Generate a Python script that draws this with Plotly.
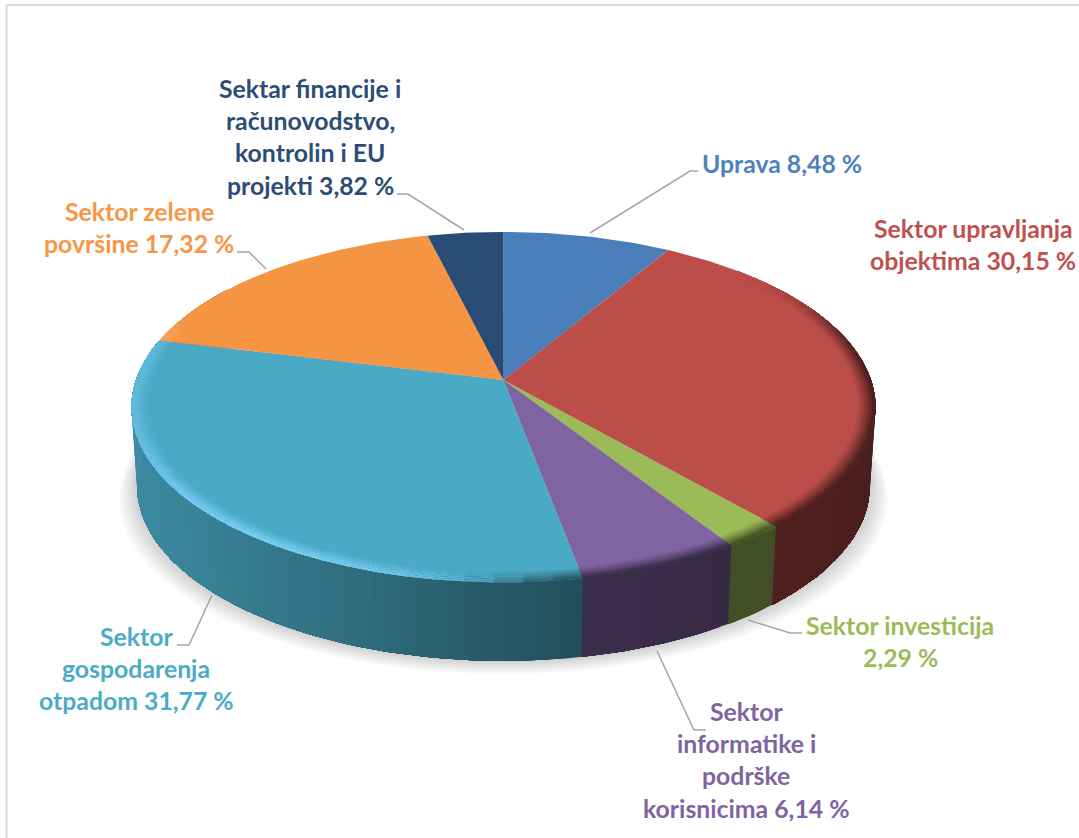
import math
import numpy as np
import plotly.graph_objects as go

names = ["Uprava", "Sektor upravljanja objektima", "Sektor investicija",
         "Sektor informatike i podrške korisnicima", "Sektor gospodarenja otpadom",
         "Sektor zelene površine", "Sektar financije i računovodstvo, kontrolin i EU projekti"]
values = [8.48, 30.15, 2.29, 6.14, 31.77, 17.32, 3.82]
colors = ["#4A7EBB", "#BC4E4A", "#9BBB59", "#8064A2", "#4AA9C4", "#F59443", "#2A4B73"]
label_colors = ["#4F81BD", "#C0504D", "#9BBB59", "#8064A2", "#4BACC6", "#F79646", "#2C4D75"]
label_lines = [
    ["Uprava 8,48 %"],
    ["Sektor upravljanja", "objektima 30,15 %"],
    ["Sektor investicija", "2,29 %"],
    ["Sektor", "informatike i", "podrške", "korisnicima 6,14 %"],
    ["Sektor", "gospodarenja", "otpadom 31,77 %"],
    ["Sektor zelene", "površine 17,32 %"],
    ["Sektar financije i", "računovodstvo,", "kontrolin i EU", "projekti 3,82 %"],
]
label_x = [782, 973, 900, 746, 136, 139, 310]
label_y = [163, 228, 625, 711, 636, 211, 88]
leaders = [
    [(590, 233), (690, 171), (698, 171)],
    [],
    [(748, 620), (790, 633), (802, 633)],
    [(657, 651), (694, 730), (706, 730)],
    [(212, 595), (189, 645), (177, 645)],
    [(266, 269), (249, 252), (237, 252)],
    [(464, 230), (408, 194), (397, 194)],
]

CX, CY, K, B = 503.5, 380.0, 0.155, 171.0
A = 372 * math.sqrt(1 - K * K)
DEPTH, SHRINK = 78.5, 0.985
FONT = 24.8
LINE_H = 32.4


def rgb(h):
    return np.array([int(h[i:i + 2], 16) for i in (1, 3, 5)], float)


def css(c):
    c = np.clip(c, 0, 255)
    return f"rgb({int(c[0])},{int(c[1])},{int(c[2])})"


def smooth(a, b, t):
    s = min(max((t - a) / (b - a), 0), 1)
    return s * s * (3 - 2 * s)


def project(theta_deg, r=1.0, low=False):
    t = np.radians(theta_deg)
    u, v = r * np.sin(t), r * np.cos(t)
    w = 1 + K * v
    x, y = A * u / w, -B * v / w
    if low:
        return CX + x * SHRINK, CY + y + DEPTH
    return CX + x, CY + y


def wall_factor(t):
    pts_t = [60, 100, 150, 170, 185, 200, 230, 260, 285]
    pts_f = [0.36, 0.39, 0.43, 0.47, 0.55, 0.65, 0.78, 0.83, 0.86]
    return float(np.interp(t, pts_t, pts_f))


def poly(x, y, color):
    return go.Scatter(x=list(x), y=list(y), mode="lines", fill="toself", fillcolor=color,
                      line=dict(color="rgba(0,0,0,0)", width=0),
                      hoverinfo="skip", showlegend=False)


total = sum(values)
edges = np.cumsum([0] + values) / total * 360
fig = go.Figure()

# soft shadow beneath the pie
circle = np.linspace(0, 360, 181)
for grow in range(18, 0, -2):
    sx, sy = project(circle, 1.0, low=True)
    sc = 1 + grow / 370
    fig.add_trace(poly(CX + (sx - CX) * sc, sy + grow * 0.75, "rgba(60,60,60,0.028)"))

# side wall: each strip runs on to the end of its slice and the next one overpaints it
for i, base in enumerate(colors):
    a0, a1 = edges[i], edges[i + 1]
    lo, hi = max(a0, 50), min(a1, 305)
    if hi <= lo:
        continue
    fine = np.linspace(lo, hi, max(2, int((hi - lo) / 1.5) + 2))
    for n in range(len(fine) - 1):
        seg = fine[n:]
        tx, ty = project(seg)
        bx, by = project(seg[::-1], low=True)
        f = wall_factor((fine[n] + fine[n + 1]) / 2)
        fig.add_trace(poly(list(tx) + list(bx), list(ty) + list(by), css(rgb(base) * f)))

# top face
for i, base in enumerate(colors):
    grid = np.linspace(edges[i], edges[i + 1], max(3, int(values[i] * 3)))
    x, y = project(grid)
    fig.add_trace(poly([CX] + list(x) + [CX], [CY] + list(y) + [CY], base))

# rounded rim: dark on the right, lit on the front left
rings = [0.955, 0.963, 0.971, 0.979, 0.986, 0.993]
dark_w = [0.12, 0.28, 0.46, 0.64, 0.82, 0.95]
lit_w = [0.12, 0.3, 0.52, 0.76, 0.95, 1.0]
for j, r0 in enumerate(rings):
    for i, base in enumerate(colors):
        a0, a1 = edges[i], edges[i + 1]
        lo, hi = max(a0, 45), min(a1, 300)
        if hi <= lo:
            continue
        fine = np.linspace(lo, hi, max(2, int((hi - lo) / 4) + 2))
        c0 = rgb(base)
        for n in range(len(fine) - 1):
            tm = (fine[n] + fine[n + 1]) / 2
            d = smooth(45, 85, tm) * (1 - smooth(168, 190, tm))
            l = smooth(170, 205, tm) * (1 - 0.5 * smooth(215, 265, tm)) * (1 - smooth(275, 300, tm))
            wall = c0 * wall_factor(tm)
            lit = c0 + (np.array([255, 255, 255]) - c0) * 0.24 + np.array([0, 14, 30])
            color = c0 + (wall - c0) * d * dark_w[j] + (lit - c0) * l * lit_w[j]
            seg = fine[n:]
            ax, ay = project(seg, r0)
            bx, by = project(seg[::-1], 1.0)
            fig.add_trace(poly(list(ax) + list(bx), list(ay) + list(by), css(color)))

# leader lines
for pts in leaders:
    if pts:
        fig.add_trace(go.Scatter(x=[p[0] for p in pts], y=[p[1] for p in pts], mode="lines",
                                 line=dict(color="#A6A6A6", width=1.5),
                                 hoverinfo="skip", showlegend=False))

annotations = []
for lines, cx, cy, col in zip(label_lines, label_x, label_y, label_colors):
    for n, text in enumerate(lines):
        annotations.append(dict(x=cx, y=cy + n * LINE_H, text=f"<b>{text}</b>", showarrow=False,
                                xanchor="center", yanchor="middle",
                                font=dict(family="Lato, sans-serif", size=FONT, color=col)))

fig.update_layout(
    width=1079, height=838, margin=dict(l=0, r=0, t=0, b=0),
    paper_bgcolor="white", plot_bgcolor="white", showlegend=False,
    xaxis=dict(range=[0, 1079], visible=False, fixedrange=True),
    yaxis=dict(range=[838, 0], visible=False, fixedrange=True),
    annotations=annotations,
    shapes=[
        dict(type="line", x0=6.5, x1=6.5, y0=5, y1=838, line=dict(color="#D9D9D9", width=2)),
        dict(type="line", x0=6.5, x1=1079, y0=5, y1=5, line=dict(color="#D9D9D9", width=2)),
    ],
)
fig.write_html("out.html", config=dict(displayModeBar=False),
               post_script="document.body.style.margin='0';document.body.style.overflow='hidden';")
